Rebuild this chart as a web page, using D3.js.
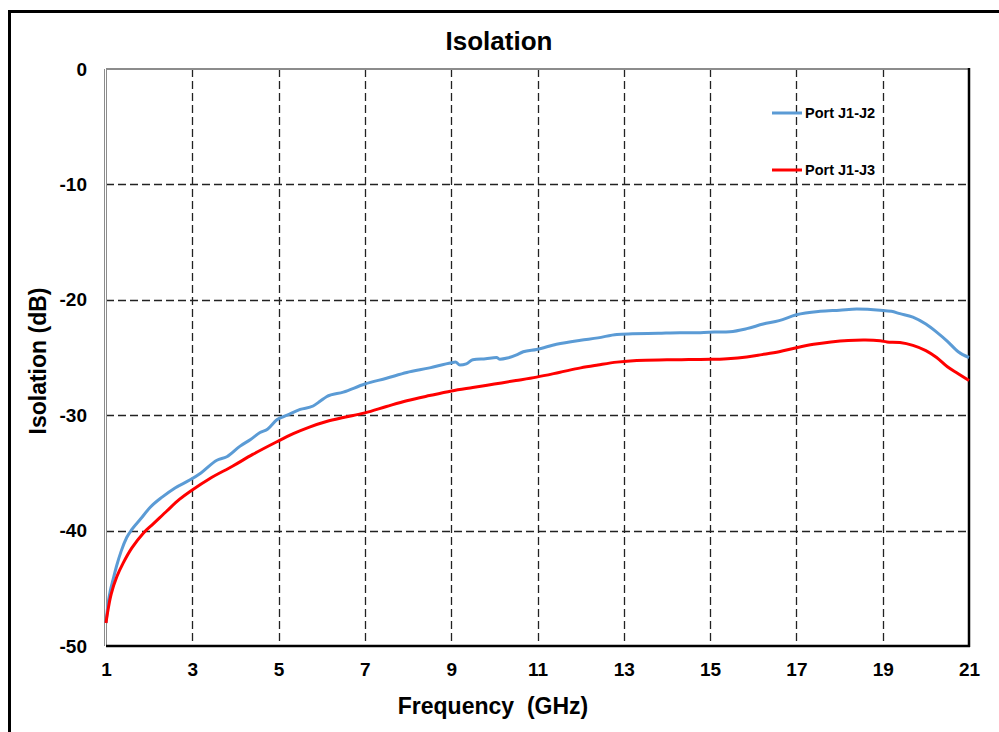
<!DOCTYPE html>
<html>
<head>
<meta charset="utf-8">
<script src="https://cdn.jsdelivr.net/npm/d3@7"></script>
<style>
  body { margin: 0; background: #fff; }
  svg { display: block; font-family: "Liberation Sans", Arial, sans-serif; font-weight: bold; }
  text { white-space: pre; }
</style>
</head>
<body>
<div id="chart"></div>
<script>
// frequencies (GHz) and isolation (dB)
var freqJ2 = [1, 1.05, 1.1, 1.16, 1.25, 1.35, 1.48, 1.6, 1.8, 2.02, 2.3, 2.6, 2.95, 3.2, 3.57, 3.8, 4.1, 4.35, 4.57, 4.75, 4.96, 5.2, 5.5, 5.8, 5.96, 6.11, 6.5, 7.0, 7.5, 7.97, 8.5, 9.01, 9.1, 9.2, 9.35, 9.5, 9.8, 10.05, 10.13, 10.3, 10.5, 10.67, 10.98, 11.44, 12.0, 12.4, 12.84, 13.2, 13.8, 14.3, 14.77, 15.1, 15.46, 15.85, 16.23, 16.6, 17.0, 17.55, 18.0, 18.4, 18.94, 19.2, 19.4, 19.7, 20.0, 20.25, 20.5, 20.75, 21];
var isoJ2  = [-48, -46.3, -45.2, -44.3, -43.0, -41.8, -40.6, -39.9, -39.0, -38.0, -37.1, -36.3, -35.6, -35.0, -33.9, -33.6, -32.7, -32.1, -31.5, -31.2, -30.4, -30.0, -29.5, -29.2, -28.8, -28.4, -28.0, -27.3, -26.8, -26.3, -25.9, -25.45, -25.4, -25.65, -25.55, -25.2, -25.1, -25.0, -25.15, -25.05, -24.8, -24.5, -24.3, -23.85, -23.5, -23.3, -23.0, -22.95, -22.9, -22.85, -22.85, -22.8, -22.76, -22.5, -22.1, -21.8, -21.3, -21.0, -20.9, -20.8, -20.9, -21.0, -21.2, -21.5, -22.1, -22.8, -23.6, -24.5, -25.0];

var freqJ3 = [1, 1.05, 1.12, 1.25, 1.4, 1.6, 1.87, 2.1, 2.41, 2.7, 2.99, 3.4, 3.94, 4.4, 4.96, 5.34, 5.7, 6.11, 6.5, 7.0, 7.5, 7.97, 8.5, 9.01, 9.5, 10.0, 10.5, 10.98, 11.5, 12.0, 12.4, 12.84, 13.3, 14.0, 14.5, 15.0, 15.4, 15.85, 16.2, 16.6, 17.0, 17.4, 17.8, 18.2, 18.6, 18.94, 19.1, 19.4, 19.7, 20.0, 20.25, 20.5, 20.75, 21];
var isoJ3  = [-48, -46.8, -45.5, -44.0, -42.8, -41.5, -40.2, -39.4, -38.3, -37.3, -36.5, -35.5, -34.4, -33.4, -32.3, -31.6, -31.05, -30.55, -30.2, -29.8, -29.25, -28.75, -28.3, -27.9, -27.6, -27.3, -27.0, -26.7, -26.3, -25.9, -25.65, -25.4, -25.25, -25.2, -25.18, -25.16, -25.1, -24.95, -24.75, -24.5, -24.15, -23.85, -23.65, -23.52, -23.48, -23.55, -23.65, -23.7, -23.95, -24.4, -25.0, -25.8, -26.4, -27.0];

var xTicks = [1, 3, 5, 7, 9, 11, 13, 15, 17, 19, 21];
var yTicks = [0, -10, -20, -30, -40, -50];
var seriesNames = ["Port J1-J2", "Port J1-J3"];
var seriesColors = ["#5b9bd5", "#ff0000"];

var width = 999, height = 732;
var pLeft = 106, pTop = 69, pRight = 969, pBottom = 646;

var svg = d3.select("#chart").append("svg")
    .attr("width", width)
    .attr("height", height);

// outer frame
svg.append("rect")
    .attr("x", 9.5).attr("y", 11.5)
    .attr("width", 1000).attr("height", 740)
    .attr("fill", "#fff")
    .attr("stroke", "#000")
    .attr("stroke-width", 3);

var fx = d3.scaleLinear().domain([1, 21]).range([pLeft, pRight]);
var fy = d3.scaleLinear().domain([-50, 0]).range([pBottom, pTop]);

// grid
svg.append("g").selectAll("line")
    .data(xTicks.slice(1, -1)).enter()
    .append("line")
      .attr("x1", function(d) { return Math.round(fx(d)) + 0.5; })
      .attr("x2", function(d) { return Math.round(fx(d)) + 0.5; })
      .attr("y1", pTop).attr("y2", pBottom)
      .attr("stroke", "#222").attr("stroke-width", 1.3)
      .attr("stroke-dasharray", "8,4");

svg.append("g").selectAll("line")
    .data(yTicks.slice(1, -1)).enter()
    .append("line")
      .attr("y1", function(d) { return Math.round(fy(d)) + 0.5; })
      .attr("y2", function(d) { return Math.round(fy(d)) + 0.5; })
      .attr("x1", pLeft).attr("x2", pRight)
      .attr("stroke", "#222").attr("stroke-width", 1.3)
      .attr("stroke-dasharray", "8,4");

// plot border: gray top/left, black right/bottom
svg.append("line").attr("x1", pLeft).attr("x2", pRight).attr("y1", pTop).attr("y2", pTop)
    .attr("stroke", "#8c8c8c").attr("stroke-width", 2);
svg.append("line").attr("x1", pLeft - 1.5).attr("x2", pLeft - 1.5).attr("y1", pTop).attr("y2", pBottom)
    .attr("stroke", "#8c8c8c").attr("stroke-width", 1);
svg.append("line").attr("x1", pLeft + 0.5).attr("x2", pLeft + 0.5).attr("y1", pTop).attr("y2", pBottom)
    .attr("stroke", "#8c8c8c").attr("stroke-width", 1);
svg.append("line").attr("x1", pRight).attr("x2", pRight).attr("y1", pTop - 1).attr("y2", pBottom + 1)
    .attr("stroke", "#000").attr("stroke-width", 2.5);
svg.append("line").attr("x1", pLeft).attr("x2", pRight + 1).attr("y1", pBottom).attr("y2", pBottom)
    .attr("stroke", "#000").attr("stroke-width", 2.5);

// axes (plain hyphen minus like the original)
var xAxis = d3.axisBottom(fx).tickValues(xTicks).tickFormat(String).tickSize(0).tickPadding(17);
var gx = svg.append("g").attr("transform", "translate(0," + pBottom + ")").call(xAxis);
gx.select(".domain").remove();
gx.selectAll("text").attr("font-size", 19).attr("font-weight", "bold")
    .attr("font-family", "Liberation Sans, Arial, sans-serif").attr("fill", "#000");

var yAxis = d3.axisLeft(fy).tickValues(yTicks).tickFormat(String).tickSize(0).tickPadding(19);
var gy = svg.append("g").attr("transform", "translate(" + pLeft + ",0)").call(yAxis);
gy.select(".domain").remove();
gy.selectAll("text").attr("font-size", 19).attr("font-weight", "bold")
    .attr("font-family", "Liberation Sans, Arial, sans-serif").attr("fill", "#000");

// lines
var curves = [d3.curveMonotoneX, d3.curveCatmullRom.alpha(0.5)];
var series = [d3.zip(freqJ2, isoJ2), d3.zip(freqJ3, isoJ3)];
svg.append("g").selectAll("path")
    .data(series).enter()
    .append("path")
      .attr("d", function(d, i) {
          return d3.line()
              .x(function(p) { return fx(p[0]); })
              .y(function(p) { return fy(p[1]); })
              .curve(curves[i])(d);
      })
      .attr("fill", "none")
      .attr("stroke", function(d, i) { return seriesColors[i]; })
      .attr("stroke-width", 3)
      .attr("stroke-linejoin", "round");

// legend
var legY = [113, 170];
var leg = svg.append("g").selectAll("g")
    .data(seriesNames).enter()
    .append("g")
      .attr("transform", function(d, i) { return "translate(772," + legY[i] + ")"; });
leg.append("line").attr("x1", 0).attr("x2", 30).attr("y1", 0).attr("y2", 0)
    .attr("stroke", function(d, i) { return seriesColors[i]; })
    .attr("stroke-width", 3);
leg.append("text").attr("x", 33).attr("y", 0).attr("dy", "0.35em")
    .attr("font-size", 14.5).text(function(d) { return d; });

// titles
svg.append("text").attr("x", 499).attr("y", 50).attr("text-anchor", "middle")
    .attr("font-size", 26).text("Isolation");
svg.append("text").attr("x", 493).attr("y", 714).attr("text-anchor", "middle")
    .attr("font-size", 23).text("Frequency  (GHz)");
svg.append("text")
    .attr("transform", "translate(46,361) rotate(-90)")
    .attr("text-anchor", "middle")
    .attr("font-size", 23).text("Isolation (dB)");
</script>
</body>
</html>
